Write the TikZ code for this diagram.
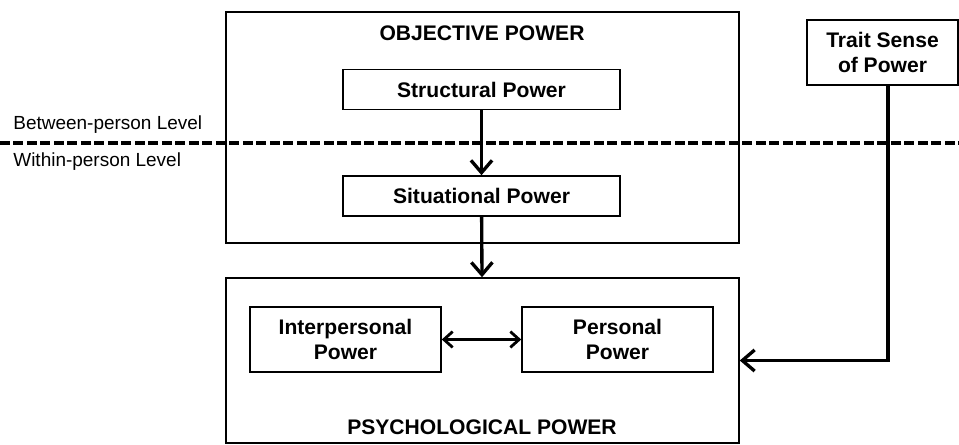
\documentclass[tikz,border=0pt]{standalone}
\usepackage{fontspec}
\setmainfont{Liberation Sans}
\usetikzlibrary{arrows.meta}
\tikzset{
  bigbox/.style={draw, line width=0.9pt, minimum width=10.26cm, inner sep=0pt},
  powerbox/.style={draw, line width=0.9pt, inner sep=0pt, align=center,
    font=\fontsize{12}{14}\selectfont\bfseries},
  title/.style={inner sep=0pt, font=\fontsize{12}{14}\selectfont\bfseries},
  levellabel/.style={anchor=west, inner sep=0pt, font=\fontsize{10.8}{12}\selectfont},
  flow/.style={line width=1.9pt, -{Straight Barb[length=7pt,width=12pt,line width=1.9pt]}},
  twoway/.style={line width=1.8pt, {Straight Barb[length=5pt,width=9pt,line width=1.6pt]}-{Straight Barb[length=5pt,width=9pt,line width=1.6pt]}}
}
\begin{document}
\begin{tikzpicture}[x=0.02cm, y=-0.02cm]
\useasboundingbox (0,0) rectangle (959,445);
% outer boxes
\node [bigbox, minimum height=4.62cm] (obj) at (482.5,127.5) {};
\node [title] (objtitle) at (482,33) {OBJECTIVE POWER};
\node [bigbox, minimum height=3.3cm] (psy) at (482.5,360.5) {};
\node [title] (psytitle) at (482,427) {PSYCHOLOGICAL POWER};
% inner boxes
\node [powerbox, minimum width=5.54cm, minimum height=0.8cm] (struct) at (481.5,89.5) {Structural Power};
\node [powerbox, minimum width=5.54cm, minimum height=0.8cm] (sit) at (481.5,196) {Situational Power};
\node [powerbox, minimum width=3.82cm, minimum height=1.3cm] (inter) at (345.5,339.5) {Interpersonal\\Power};
\node [powerbox, minimum width=3.82cm, minimum height=1.3cm] (pers) at (617.5,339.5) {Personal\\Power};
\node [powerbox, minimum width=3.02cm, minimum height=1.3cm] (trait) at (882.5,52.5) {Trait Sense\\of Power};
% levels
\coordinate (dl) at (0,143);
\coordinate (dr) at (959,143);
\draw [line width=2.3pt, dash pattern=on 0.2cm off 0.07cm] (dl) -- (dr);
\node [levellabel] (between) at (13,125) {Between-person Level};
\node [levellabel] (within) at (13,162) {Within-person Level};
% arrows
\coordinate (traitout) at ([xshift=0.11cm]trait.south);
\draw [flow] (struct) -- (sit);
\draw [flow] (sit) -- (psy);
\draw [twoway] (inter) -- (pers);
\draw [flow] (traitout) -- (traitout |- psy.east) -- (psy.east);
\end{tikzpicture}
\end{document}
